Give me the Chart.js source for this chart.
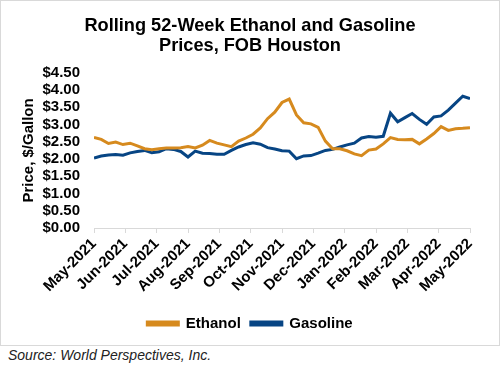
<!DOCTYPE html>
<html>
<head>
<meta charset="utf-8">
<script src="https://cdn.jsdelivr.net/npm/chart.js@4.4.1/dist/chart.umd.min.js"></script>
<style>
  body { margin: 0; background: #fff; font-family: "Liberation Sans", Arial, sans-serif; }
  #frame { position: absolute; left: 0; top: 0; width: 498px; height: 344px; border: 1px solid #d9d9d9; }
  #source { position: absolute; left: 8px; top: 347px; font-size: 14px; font-style: italic; color: #222; }
</style>
</head>
<body>
<div id="frame"><canvas id="chart"></canvas></div>
<div id="source">Source: World Perspectives, Inc.</div>
<script>
const monthLabels = ["May-2021", "Jun-2021", "Jul-2021", "Aug-2021", "Sep-2021", "Oct-2021", "Nov-2021",
  "Dec-2021", "Jan-2022", "Feb-2022", "Mar-2022", "Apr-2022", "May-2022"];

// weekly prices, $/gallon, 53 weeks
const ethanol = [2.63, 2.57, 2.45, 2.49, 2.42, 2.46, 2.38, 2.30, 2.27, 2.30,
  2.32, 2.32, 2.33, 2.36, 2.32, 2.40, 2.54, 2.46, 2.41, 2.36,
  2.52, 2.61, 2.72, 2.90, 3.17, 3.36, 3.64, 3.74, 3.28, 3.05,
  3.02, 2.92, 2.52, 2.30, 2.30, 2.24, 2.15, 2.10, 2.26, 2.29,
  2.44, 2.62, 2.57, 2.56, 2.57, 2.44, 2.58, 2.74, 2.94, 2.83,
  2.88, 2.89, 2.91];

const gasoline = [2.03, 2.09, 2.12, 2.13, 2.11, 2.18, 2.22, 2.25, 2.18, 2.21,
  2.30, 2.28, 2.22, 2.06, 2.23, 2.17, 2.16, 2.14, 2.14, 2.25,
  2.35, 2.42, 2.47, 2.43, 2.33, 2.29, 2.24, 2.23, 2.01, 2.09,
  2.10, 2.17, 2.25, 2.28, 2.35, 2.41, 2.46, 2.61, 2.65, 2.63,
  2.66, 3.33, 3.08, 3.20, 3.32, 3.15, 3.01, 3.22, 3.25, 3.42,
  3.62, 3.82, 3.75];

const weeks = ethanol.length - 1;
const toPoints = (values) => values.map((v, i) => ({ x: i, y: v }));

const font = { family: "'Liberation Sans', Arial, sans-serif", size: 15, weight: "bold" };

new Chart(document.getElementById("chart"), {
  type: "line",
  data: {
    datasets: [
      { label: "Ethanol", data: toPoints(ethanol), borderColor: "#D68A1E", backgroundColor: "#D68A1E", borderWidth: 3, pointRadius: 0, tension: 0 },
      { label: "Gasoline", data: toPoints(gasoline), borderColor: "#074584", backgroundColor: "#074584", borderWidth: 3, pointRadius: 0, tension: 0 },
    ],
  },
  options: {
    responsive: true,
    maintainAspectRatio: false,
    animation: false,
    layout: { padding: { left: 0, right: 0, top: 0, bottom: 4 } },
    scales: {
      x: {
        type: "linear",
        min: 0,
        max: weeks,
        afterBuildTicks: (scale) => {
          scale.ticks = monthLabels.map((_, i) => ({ value: (i * weeks) / (monthLabels.length - 1) }));
        },
        afterFit: (scale) => { scale.height = 78; },
        ticks: {
          autoSkip: false,
          minRotation: 45,
          maxRotation: 45,
          padding: 2,
          color: "#000",
          font: font,
          callback: (value, index) => monthLabels[index],
        },
        grid: { drawOnChartArea: false, drawTicks: true, tickLength: 5, color: "#d9d9d9" },
        border: { display: true, color: "#d9d9d9", width: 1 },
      },
      y: {
        min: 0,
        max: 4.5,
        afterFit: (scale) => { scale.width = 93; },
        ticks: {
          stepSize: 0.5,
          autoSkip: false,
          padding: 14,
          color: "#000",
          font: font,
          callback: (value) => "$" + value.toFixed(2),
        },
        grid: { display: false, drawTicks: false, tickLength: 0 },
        border: { display: false },
        title: { display: true, text: "Price, $/Gallon", color: "#000", font: font, padding: { top: 19, bottom: 0 } },
      },
      // empty right-hand spacer so the legend stays centred on the whole canvas
      spacer: {
        position: "right",
        display: true,
        afterFit: (scale) => { scale.width = 29; },
        ticks: { display: false },
        grid: { display: false },
        border: { display: false },
      },
    },
    plugins: {
      title: {
        display: true,
        text: ["Rolling 52-Week Ethanol and Gasoline", "Prices, FOB Houston"],
        color: "#000",
        font: { family: "'Liberation Sans', Arial, sans-serif", size: 18.2, weight: "bold", lineHeight: 1.1 },
        padding: { top: 14.5, bottom: 17.3 },
      },
      legend: {
        position: "bottom",
        labels: { color: "#000", font: font, boxWidth: 31, boxHeight: 3, padding: 10 },
      },
      tooltip: { enabled: false },
    },
  },
});
</script>
</body>
</html>
